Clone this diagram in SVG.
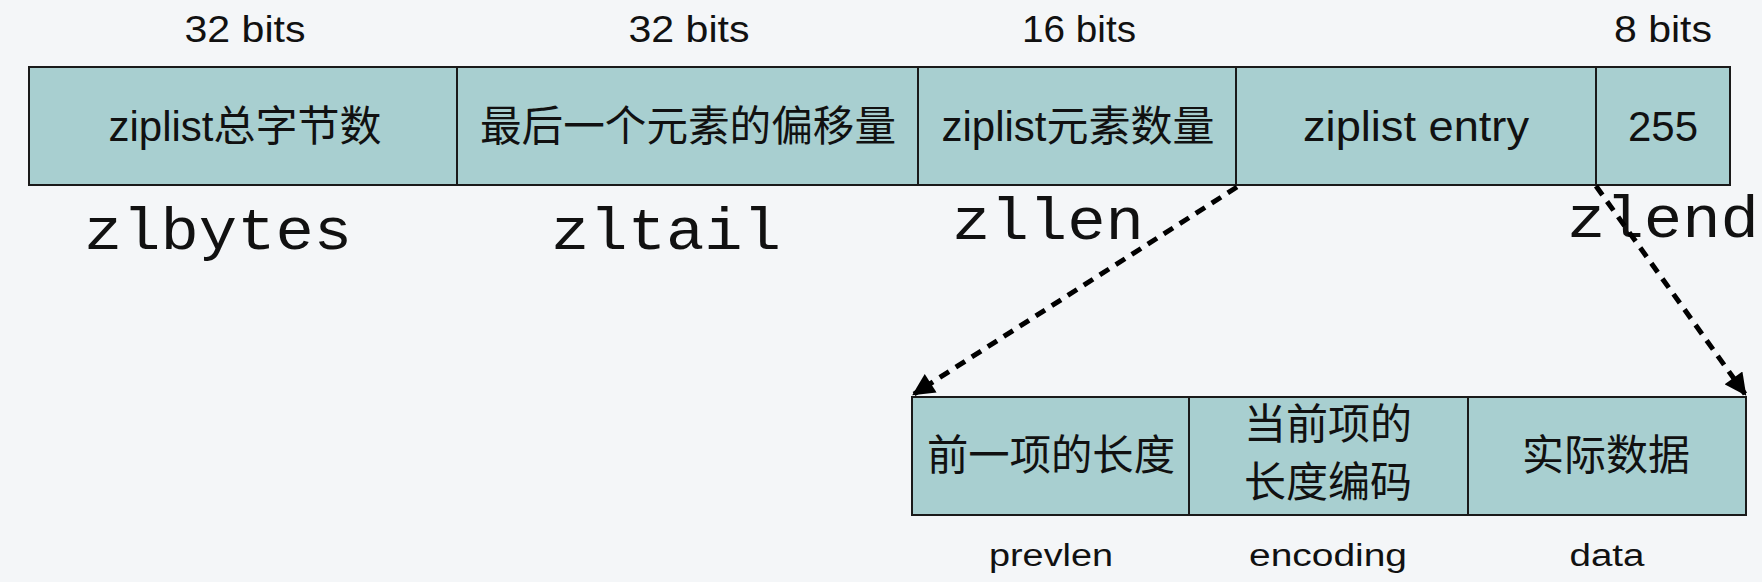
<svg xmlns="http://www.w3.org/2000/svg" width="1762" height="582" viewBox="0 0 1762 582">
<defs>
<style>
.bg{fill:#f4f6f8}
.cell{fill:#a8cfd0;stroke:#1a1a1a;stroke-width:2}
.t{font-family:"Liberation Sans","Noto Sans CJK SC",sans-serif;fill:#111;text-anchor:middle}
.bits{font-size:36px}
.box{font-size:42px}
.sub{font-size:31px}
.mono{font-family:"Liberation Mono","Courier New",monospace;font-size:60px;fill:#111;text-anchor:middle}
.conn{fill:none;stroke:#000;stroke-width:5;stroke-dasharray:11 8}
</style>
<marker id="ah" viewBox="0 0 10 10" refX="9" refY="5" markerWidth="4.6" markerHeight="4.4" markerUnits="strokeWidth" orient="auto">
<path d="M0,0 L10,5 L0,10 z" fill="#000"/>
</marker>
</defs>
<rect class="bg" x="0" y="0" width="1762" height="582"/>

<g id="bits-labels">
<text class="t bits" x="245" y="42" textLength="121" lengthAdjust="spacingAndGlyphs">32 bits</text>
<text class="t bits" x="689" y="42" textLength="121" lengthAdjust="spacingAndGlyphs">32 bits</text>
<text class="t bits" x="1079" y="42" textLength="114" lengthAdjust="spacingAndGlyphs">16 bits</text>
<text class="t bits" x="1663" y="42" textLength="98" lengthAdjust="spacingAndGlyphs">8 bits</text>
</g>

<g id="zlbytes">
<rect class="cell" x="29" y="67" width="428" height="118"/>
<text class="t box" x="245" y="141">ziplist总字节数</text>
<text class="mono" x="218" y="249" textLength="268" lengthAdjust="spacingAndGlyphs">zlbytes</text>
</g>
<g id="zltail">
<rect class="cell" x="457" y="67" width="461" height="118"/>
<text class="t box" x="688" y="141" textLength="416" lengthAdjust="spacingAndGlyphs">最后一个元素的偏移量</text>
<text class="mono" x="666" y="249" textLength="230" lengthAdjust="spacingAndGlyphs">zltail</text>
</g>
<g id="zllen">
<rect class="cell" x="918" y="67" width="318" height="118"/>
<text class="t box" x="1078" y="141">ziplist元素数量</text>
<text class="mono" x="1048" y="239" textLength="192" lengthAdjust="spacingAndGlyphs">zllen</text>
</g>
<g id="entry">
<rect class="cell" x="1236" y="67" width="360" height="118"/>
<text class="t box" x="1416" y="141" textLength="226" lengthAdjust="spacingAndGlyphs">ziplist entry</text>
</g>
<g id="zlend">
<rect class="cell" x="1596" y="67" width="134" height="118"/>
<text class="t box" x="1663" y="141">255</text>
<text class="mono" x="1663" y="237" textLength="192" lengthAdjust="spacingAndGlyphs">zlend</text>
</g>

<g id="prevlen">
<rect class="cell" x="912" y="397" width="277" height="118"/>
<text class="t box" x="1051" y="470" textLength="248" lengthAdjust="spacingAndGlyphs">前一项的长度</text>
<text class="t sub" x="1051" y="566" textLength="124" lengthAdjust="spacingAndGlyphs">prevlen</text>
</g>
<g id="encoding">
<rect class="cell" x="1189" y="397" width="279" height="118"/>
<text class="t box" x="1328" y="439">当前项的</text>
<text class="t box" x="1328" y="497">长度编码</text>
<text class="t sub" x="1328" y="566" textLength="158" lengthAdjust="spacingAndGlyphs">encoding</text>
</g>
<g id="data">
<rect class="cell" x="1468" y="397" width="278" height="118"/>
<text class="t box" x="1606" y="470">实际数据</text>
<text class="t sub" x="1607" y="566" textLength="75" lengthAdjust="spacingAndGlyphs">data</text>
</g>

<g id="connectors">
<line class="conn" x1="1237" y1="187" x2="914" y2="394" marker-end="url(#ah)"/>
<line class="conn" x1="1596" y1="186" x2="1745" y2="394" marker-end="url(#ah)"/>
</g>
</svg>
